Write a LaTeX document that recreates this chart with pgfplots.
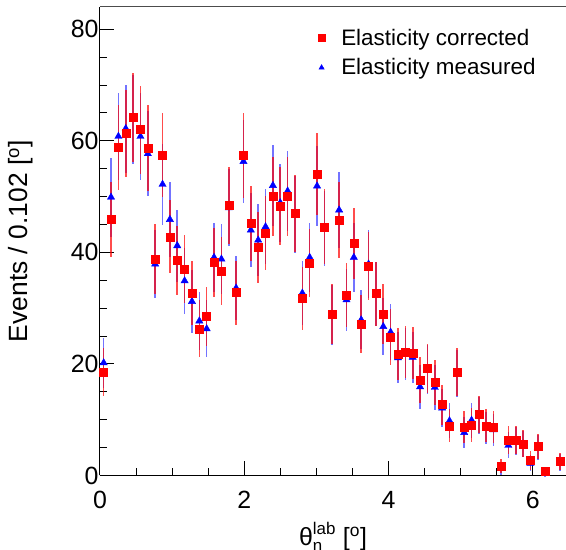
\documentclass[border=0pt]{standalone}
\usepackage{fontspec}
\setmainfont{Liberation Sans}
\usepackage{pgfplots}
\usepackage{pgfplotstable}
\pgfplotsset{compat=1.18}
\usetikzlibrary{calc}

\pgfplotstableread{
x y e
0.051 18.5 4.30
0.153 45.9 6.77
0.255 58.8 7.67
0.357 61.3 7.83
0.459 64.2 8.01
0.561 62.0 7.87
0.663 58.7 7.66
0.765 38.8 6.23
0.867 57.5 7.58
0.969 42.8 6.54
1.071 38.6 6.21
1.173 37.0 6.08
1.275 32.7 5.72
1.377 26.3 5.13
1.479 28.5 5.34
1.581 38.2 6.18
1.683 36.7 6.06
1.785 48.4 6.96
1.887 32.8 5.73
1.989 57.4 7.58
2.091 45.2 6.72
2.193 40.9 6.40
2.295 43.5 6.60
2.397 50.1 7.08
2.499 48.3 6.95
2.601 50.0 7.07
2.703 47.0 6.86
2.805 31.7 5.63
2.907 38.1 6.17
3.009 54.0 7.35
3.111 44.6 6.68
3.213 29.0 5.39
3.315 45.8 6.77
3.417 32.4 5.69
3.519 41.6 6.45
3.621 27.1 5.21
3.723 37.6 6.13
3.825 32.6 5.71
3.927 29.0 5.39
4.029 24.8 4.98
4.131 21.7 4.66
4.233 22.1 4.70
4.335 21.9 4.68
4.437 17.1 4.14
4.539 19.2 4.38
4.641 16.7 4.09
4.743 12.7 3.56
4.845 8.9 2.98
4.947 18.5 4.30
5.049 8.7 2.95
5.151 9.1 3.02
5.253 11.0 3.32
5.355 8.9 2.98
5.457 8.7 2.95
5.559 1.7 1.30
5.661 6.3 2.51
5.763 6.4 2.53
5.865 5.7 2.39
5.967 2.7 1.64
6.069 5.2 2.28
6.171 0.7 0.84
6.375 2.5 1.58
}\corrected

\pgfplotstableread{
x y e
0.051 20.2 4.49
0.153 49.9 7.06
0.255 60.8 7.80
0.357 62.2 7.89
0.459 63.8 7.99
0.561 60.8 7.80
0.663 57.7 7.60
0.765 37.9 6.16
0.867 52.2 7.22
0.969 45.9 6.77
1.071 41.2 6.42
1.173 34.9 5.91
1.275 31.2 5.59
1.377 27.7 5.26
1.479 26.3 5.13
1.581 39.1 6.25
1.683 38.8 6.23
1.785 48.0 6.93
1.887 33.6 5.80
1.989 56.3 7.50
2.091 44.0 6.63
2.193 42.2 6.50
2.295 44.6 6.68
2.397 52.0 7.21
2.499 48.9 6.99
2.601 51.0 7.14
2.703 46.8 6.84
2.805 32.7 5.72
2.907 39.1 6.25
3.009 51.9 7.20
3.111 44.3 6.66
3.213 28.8 5.37
3.315 47.6 6.90
3.417 31.5 5.61
3.519 39.1 6.25
3.621 27.9 5.28
3.723 37.9 6.16
3.825 32.5 5.70
3.927 26.7 5.17
4.029 25.7 5.07
4.131 21.1 4.59
4.233 21.8 4.67
4.335 21.2 4.60
4.437 15.9 3.99
4.539 19.0 4.36
4.641 15.8 3.97
4.743 12.1 3.48
4.845 9.8 3.13
4.947 18.3 4.28
5.049 7.7 2.77
5.151 9.9 3.15
5.253 10.8 3.29
5.355 8.5 2.92
5.457 8.2 2.86
5.559 1.3 1.14
5.661 5.4 2.32
5.763 6.2 2.49
5.865 5.6 2.37
5.967 2.2 1.48
6.069 5.0 2.24
6.171 0.5 0.71
6.375 2.3 1.52
}\measured

\begin{document}
\begin{tikzpicture}
\begin{axis}[
  name=ax,
  scale only axis,
  width=466bp, height=468.5bp,
  xmin=0, xmax=6.46, ymin=0, ymax=84,
  axis x line=bottom, axis y line=left,
  axis line style={-, line width=1bp},
  xtick={0,2,4,6}, ytick={0,20,40,60,80},
  minor x tick num=3, minor y tick num=3,
  tick align=inside,
  major tick length=14bp, minor tick length=7bp,
  tick style={line width=1bp, black},
  /pgf/number format/assume math mode=true,
  tick label style={font=\fontsize{25}{30}\selectfont},
  xticklabel style={yshift=-12bp},
  yticklabel style={xshift=2bp},
  xlabel={$\mbox{θ}_{\mbox{\fontsize{17}{20}\selectfont η}}^{\mbox{\fontsize{17}{20}\selectfont lab}}$ [\textsuperscript{o}]},
  ylabel={Events / 0.102 [\textsuperscript{o}]},
  xlabel style={font=\fontsize{25}{30}\selectfont, at={(rel axis cs:0.5,0)}, anchor=north, yshift=-43bp},
  ylabel style={font=\fontsize{26.5}{30}\selectfont, at={(rel axis cs:0,0.5)}, anchor=south, yshift=63bp},
  legend style={at={(0.450,0.962)}, anchor=north west, draw=none, fill=none,
    font=\fontsize{22.5}{26}\selectfont, row sep=8bp},
  legend image code/.code={\draw[mark repeat=2, mark phase=2, #1]
     plot coordinates {(0cm,0cm) (0.3cm,0cm) (0.6cm,0cm)};
     \path (0bp,0bp) (26bp,0bp);},
  legend cell align=left,
  reverse legend,
  clip=false,
]
\addplot[only marks, mark=triangle*, mark size=4.2bp, color=blue,
  legend image post style={mark size=3bp},
  error bars/.cd, y dir=both, y explicit, error mark=none,
  error bar style={line width=1.6bp, blue, opacity=0.55}]
  table[x=x, y=y, y error=e] {\measured};
\addlegendentry{Elasticity measured}
\addplot[only marks, mark=square*, mark size=4bp, color=red,
  legend image post style={mark size=3.3bp},
  error bars/.cd, y dir=both, y explicit, error mark=none,
  error bar style={line width=1.6bp, red, opacity=0.7}]
  table[x=x, y=y, y error=e] {\corrected};
\addlegendentry{Elasticity corrected}
\draw[line width=1bp, black!70] (rel axis cs:0,1) -- (rel axis cs:1,1);
\end{axis}
\pgfresetboundingbox
\useasboundingbox ($(ax.south west)+(-100bp,-74.5bp)$) rectangle ($(ax.north east)+(0bp,7bp)$);
\end{tikzpicture}
\end{document}
